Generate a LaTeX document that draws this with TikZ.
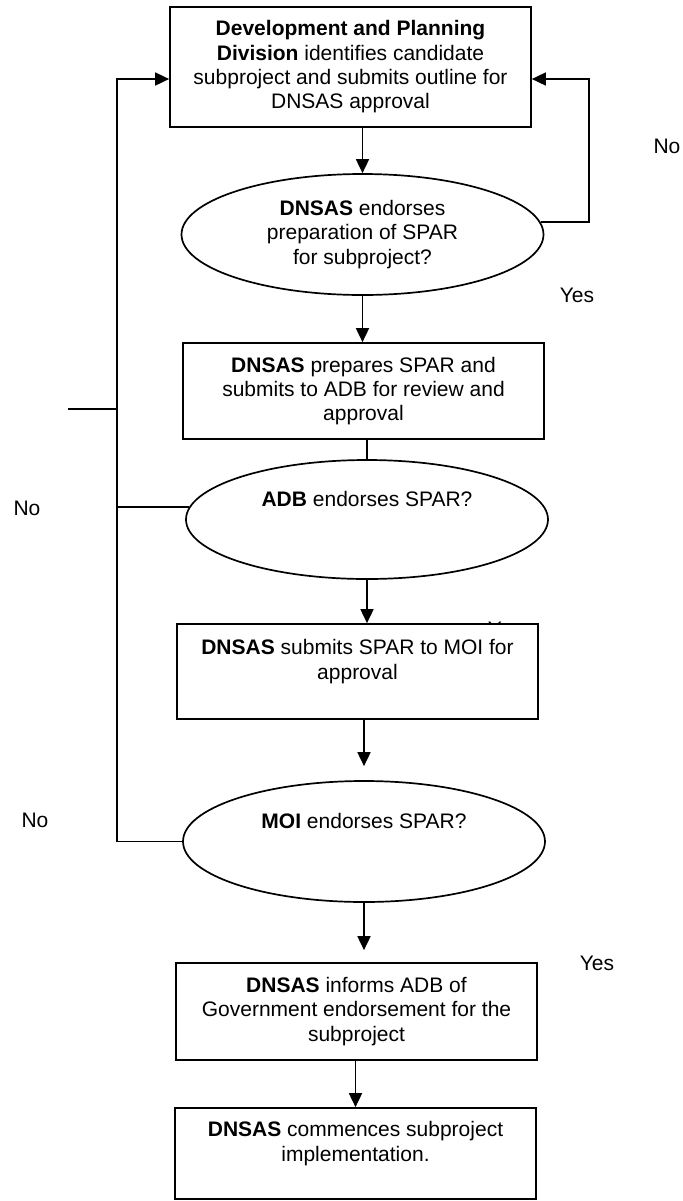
\documentclass[tikz,border=0pt]{standalone}
\usepackage{fontspec}
\setmainfont{Liberation Sans}
\usepackage{tikz}
\usetikzlibrary{positioning,arrows.meta,shapes.geometric}

\begin{document}
\begin{tikzpicture}[x=0.5pt, y=-0.5pt, font=\fontsize{10.5}{12.15}\selectfont,
  box/.style={draw, rectangle, line width=0.85pt, fill=white, minimum width=180.5pt, align=center, inner sep=0pt},
  oval/.style={draw, ellipse, line width=0.85pt, fill=white, minimum width=181pt, align=center, inner sep=0pt},
  arr/.style={-{Triangle[length=7pt,width=6.5pt]}, line width=0.85pt},
  link/.style={line width=0.85pt}]
\useasboundingbox (0,0) rectangle (683,1201);
\node[box, minimum height=60pt] (plan) at (350.5,67) {\textbf{Development and Planning}\\ \textbf{Division} identifies candidate\\ subproject and submits outline for\\ DNSAS approval};
\node[oval, minimum height=60.5pt] (endorse) at (362.5,234.5) {\textbf{DNSAS} endorses\\ preparation of SPAR\\ for subproject?};
\node[box, minimum height=48pt] (prepare) at (363.5,391) {\textbf{DNSAS} prepares SPAR and\\ submits to ADB for review and\\ approval};
\node[oval, minimum height=59.5pt] (adb) at (367,519.5) {\textbf{ADB} endorses SPAR?\\[8pt]~};
\node (yes2) at (505,629) {Yes};
\node[box, minimum height=47.5pt] (submit) at (357.5,671.5) {\textbf{DNSAS} submits SPAR to MOI for\\ approval\\ ~};
\node[oval, minimum height=60.5pt] (moi) at (364,841.5) {\textbf{MOI} endorses SPAR?\\[8pt]~};
\node[box, minimum height=48.5pt] (inform) at (356.5,1011.5) {\textbf{DNSAS} informs ADB of\\ Government endorsement for the\\ subproject};
\node[box, minimum height=45.5pt] (start) at (355.5,1153.5) {\textbf{DNSAS} commences subproject\\ implementation.\\ ~};
\node (no1) at (667,146) {No};
\node (yes1) at (577,295) {Yes};
\node (no2) at (27,508) {No};
\node (no3) at (35,820) {No};
\node (yes3) at (597,963) {Yes};
\coordinate (lbus) at (117,79);
\coordinate (rbus) at (589,79);
\coordinate (stub) at (68,409);
\draw[arr] (endorse.north |- plan.south) -- (endorse.north);
\draw[arr] (endorse.4) -| (rbus) -- (plan.east |- rbus);
\draw[arr] (endorse.south) -- (endorse.south |- prepare.north);
\draw[link] (adb.north |- prepare.south) -- (adb.north);
\draw[arr] (adb.south) -- (adb.south |- submit.north);
\draw[arr, shorten >=7pt] (moi.north |- submit.south) -- (moi.north);
\draw[arr, shorten >=6pt] (moi.south) -- (moi.south |- inform.north);
\draw[arr] (start.north |- inform.south) -- (start.north);
\draw[arr] (moi.west) -| (lbus) -- (plan.west |- lbus);
\draw[link] (adb.176) -- (adb.176 -| lbus);
\draw[link] (stub) -- (stub -| lbus);
\end{tikzpicture}
\end{document}
